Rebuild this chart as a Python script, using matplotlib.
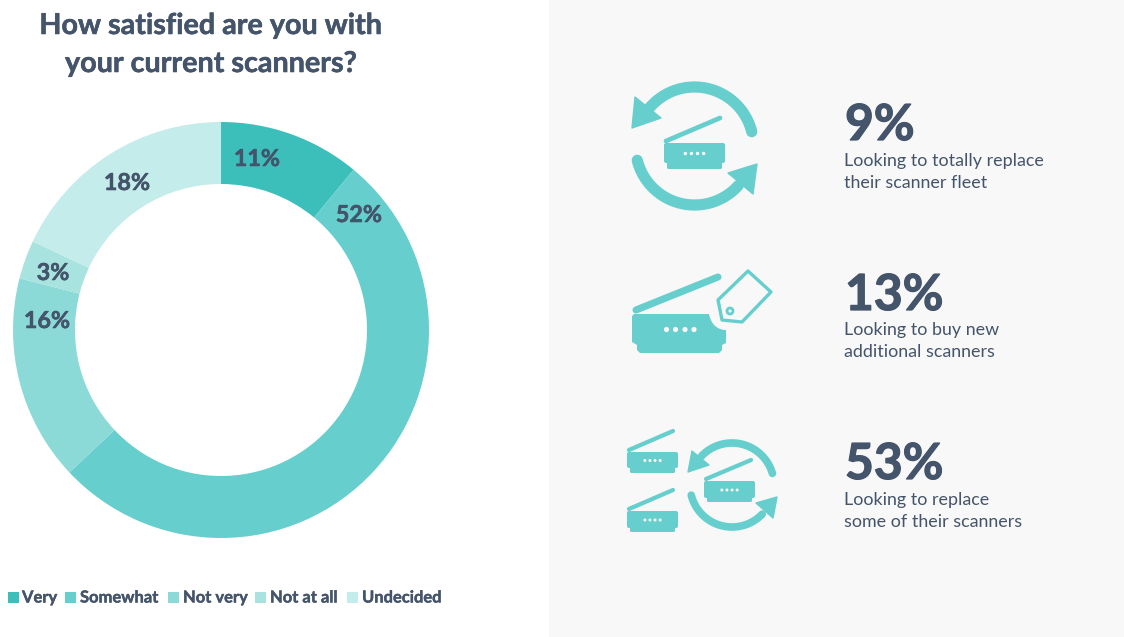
import numpy as np
import matplotlib
matplotlib.use("Agg")
import matplotlib.pyplot as plt
import matplotlib.patheffects as pe
from matplotlib.patches import Rectangle, Polygon, FancyBboxPatch, Circle, PathPatch
from matplotlib.path import Path

categories = ["Very", "Somewhat", "Not very", "Not at all", "Undecided"]
values = [11, 52, 16, 3, 18]
stat_values = ["9%", "13%", "53%"]
stat_lines = [["Looking to totally replace", "their scanner fleet"],
              ["Looking to buy new", "additional scanners"],
              ["Looking to replace", "some of their scanners"]]

COLORS = ["#3cbfbb", "#66cfce", "#8bdad8", "#a8e3e0", "#c4ecea"]
TEAL = "#66cfce"
INK = "#44546a"
PANEL = "#f8f8f8"
W, H = 1124, 637
plt.rcParams["font.family"] = ["Lato", "DejaVu Sans"]
def heavy(w):
    return [pe.withStroke(linewidth=w, foreground=INK)]

fig = plt.figure(figsize=(W / 100, H / 100), dpi=100, facecolor="white")
ov = fig.add_axes([0, 0, 1, 1], zorder=0)
ov.set_xlim(0, W); ov.set_ylim(H, 0); ov.axis("off")
ov.add_patch(Rectangle((549, 0), W - 549, H, fc=PANEL, ec="none"))

# donut
cx, cy, R = 221, 330, 208
don = fig.add_axes([(cx - R) / W, 1 - (cy + R) / H, 2 * R / W, 2 * R / H], zorder=1)
don.pie(values, colors=COLORS, startangle=90, counterclock=False, radius=1,
        wedgeprops=dict(width=62 / R, linewidth=0))
don.set_xlim(-1, 1); don.set_ylim(-1, 1); don.set_aspect("equal"); don.axis("off")

top = fig.add_axes([0, 0, 1, 1], zorder=2)
top.set_xlim(0, W); top.set_ylim(H, 0); top.axis("off"); top.patch.set_alpha(0)

# title
for y, s in zip((34, 72), ("How satisfied are you with", "your current scanners?")):
    top.text(211, y, s, ha="center", va="baseline", fontsize=20.7, fontweight="bold", color=INK,
             path_effects=heavy(0.4))

# slice labels
label_xy = [(257, 166), (359, 222), (47, 328), (53, 280), (127, 190)]
for v, (x, y) in zip(values, label_xy):
    top.text(x, y, f"{v}%", ha="center", va="baseline", fontsize=16.8, fontweight="bold", color=INK,
             path_effects=heavy(0.4))

# legend
swatch_x = [8, 65, 168, 255, 347]
text_x = [22, 80, 183, 270, 362]
for sx, tx, c, name in zip(swatch_x, text_x, COLORS, categories):
    top.add_patch(Rectangle((sx, 592), 10.5, 10.5, fc=c, ec="none"))
    top.text(tx, 602.5, name, ha="left", va="baseline", fontsize=11.9, fontweight="bold", color=INK,
             path_effects=heavy(0.3))

# right-hand stats
for (yb, y1, y2), s, lines in zip([(140, 166, 188), (310, 335, 357), (479, 505, 527)], stat_values, stat_lines):
    top.text(845, yb, s, ha="left", va="baseline", fontsize=35.8, fontweight="bold", color=INK,
             path_effects=heavy(0.9))
    top.text(844, y1, lines[0], ha="left", va="baseline", fontsize=12.9, color=INK)
    top.text(844, y2, lines[1], ha="left", va="baseline", fontsize=12.9, color=INK)

PX = 0.85

def box(x0, y0, x1, y1, r, fc=TEAL):
    top.add_patch(FancyBboxPatch((x0 + r, y0 + r), x1 - x0 - 2 * r, y1 - y0 - 2 * r,
                                 boxstyle=f"round,pad={r},rounding_size={r}", fc=fc, ec="none"))

def dots(xs, y, r):
    for x in xs:
        top.add_patch(Circle((x, y), r, fc=PANEL, ec="none", zorder=5))

def lid(p0, p1, lw):
    top.plot([p0[0], p1[0]], [p0[1], p1[1]], color=TEAL, lw=lw * PX, solid_capstyle="round")

def scanner(x0, x1, y0, y1, yf, l0, l1, lw, dr):
    box(x0 + 3, y1 - 6, x1 - 3, yf, 1.5)
    box(x0, y0, x1, y1, 2)
    lid(l0, l1, lw)
    mid = (x0 + x1) / 2
    step = (x1 - x0) * 0.1
    dots([mid + step * k for k in (-1.5, -0.5, 0.5, 1.5)], (y0 + y1) / 2 + 0.5, dr)

def arc(xc, yc, r, a0, a1, lw):
    a = np.radians(np.linspace(a0, a1, 80))
    top.plot(xc + r * np.cos(a), yc - r * np.sin(a), color=TEAL, lw=lw * PX, solid_capstyle="round")

def head(pts):
    top.add_patch(Polygon(pts, closed=True, fc=TEAL, ec=TEAL, lw=1, joinstyle="round"))

# icon 1: full replacement
arc(694.5, 146, 59, 14, 140, 9.5)
head([(635, 97), (632, 128), (661, 118)])
arc(694.5, 146, 59, 194, 318, 9.5)
head([(728, 173), (757, 164), (753, 194)])
scanner(664, 725, 143, 163, 169, (666, 141), (720, 118), 4, 1.7)

# icon 2: scanner plus price tag
lid((636, 310), (718, 277), 6)
body = Path([(634, 314), (709, 314), (711, 324), (717, 330), (726, 330), (726, 343),
             (722, 345), (722, 350), (719, 353), (640, 353), (637, 350), (637, 345), (632, 342), (632, 316), (634, 314)],
            [Path.MOVETO, Path.LINETO, Path.CURVE4, Path.CURVE4, Path.CURVE4, Path.LINETO,
             Path.LINETO, Path.LINETO, Path.LINETO, Path.LINETO, Path.LINETO, Path.LINETO, Path.LINETO, Path.LINETO, Path.CLOSEPOLY])
top.add_patch(PathPatch(body, fc=TEAL, ec="none"))
dots([666.5, 675.5, 685, 694], 329.5, 2.6)
top.add_patch(Polygon([(748, 271), (771, 292), (742, 322), (722, 320), (718, 300)], closed=True,
                      fc="none", ec=TEAL, lw=2.4, joinstyle="round"))
top.add_patch(Circle((730, 311), 3, fc="none", ec=TEAL, lw=2))

# icon 3: partial replacement
scanner(627, 678, 452, 468, 473, (629, 450), (673, 431), 3.6, 1.5)
scanner(627, 678, 511, 528, 532, (629, 509), (673, 490), 3.6, 1.5)
arc(732, 485, 42, 16, 137, 6.5)
head([(692, 451), (688, 472), (709, 465)])
arc(732, 485, 42, 194, 316, 6.5)
head([(756, 503), (777, 497), (773, 518)])
scanner(704, 755, 481, 498, 502, (706, 479), (751, 460), 3.6, 1.5)

fig.savefig("out.png", dpi=100, facecolor="white")
